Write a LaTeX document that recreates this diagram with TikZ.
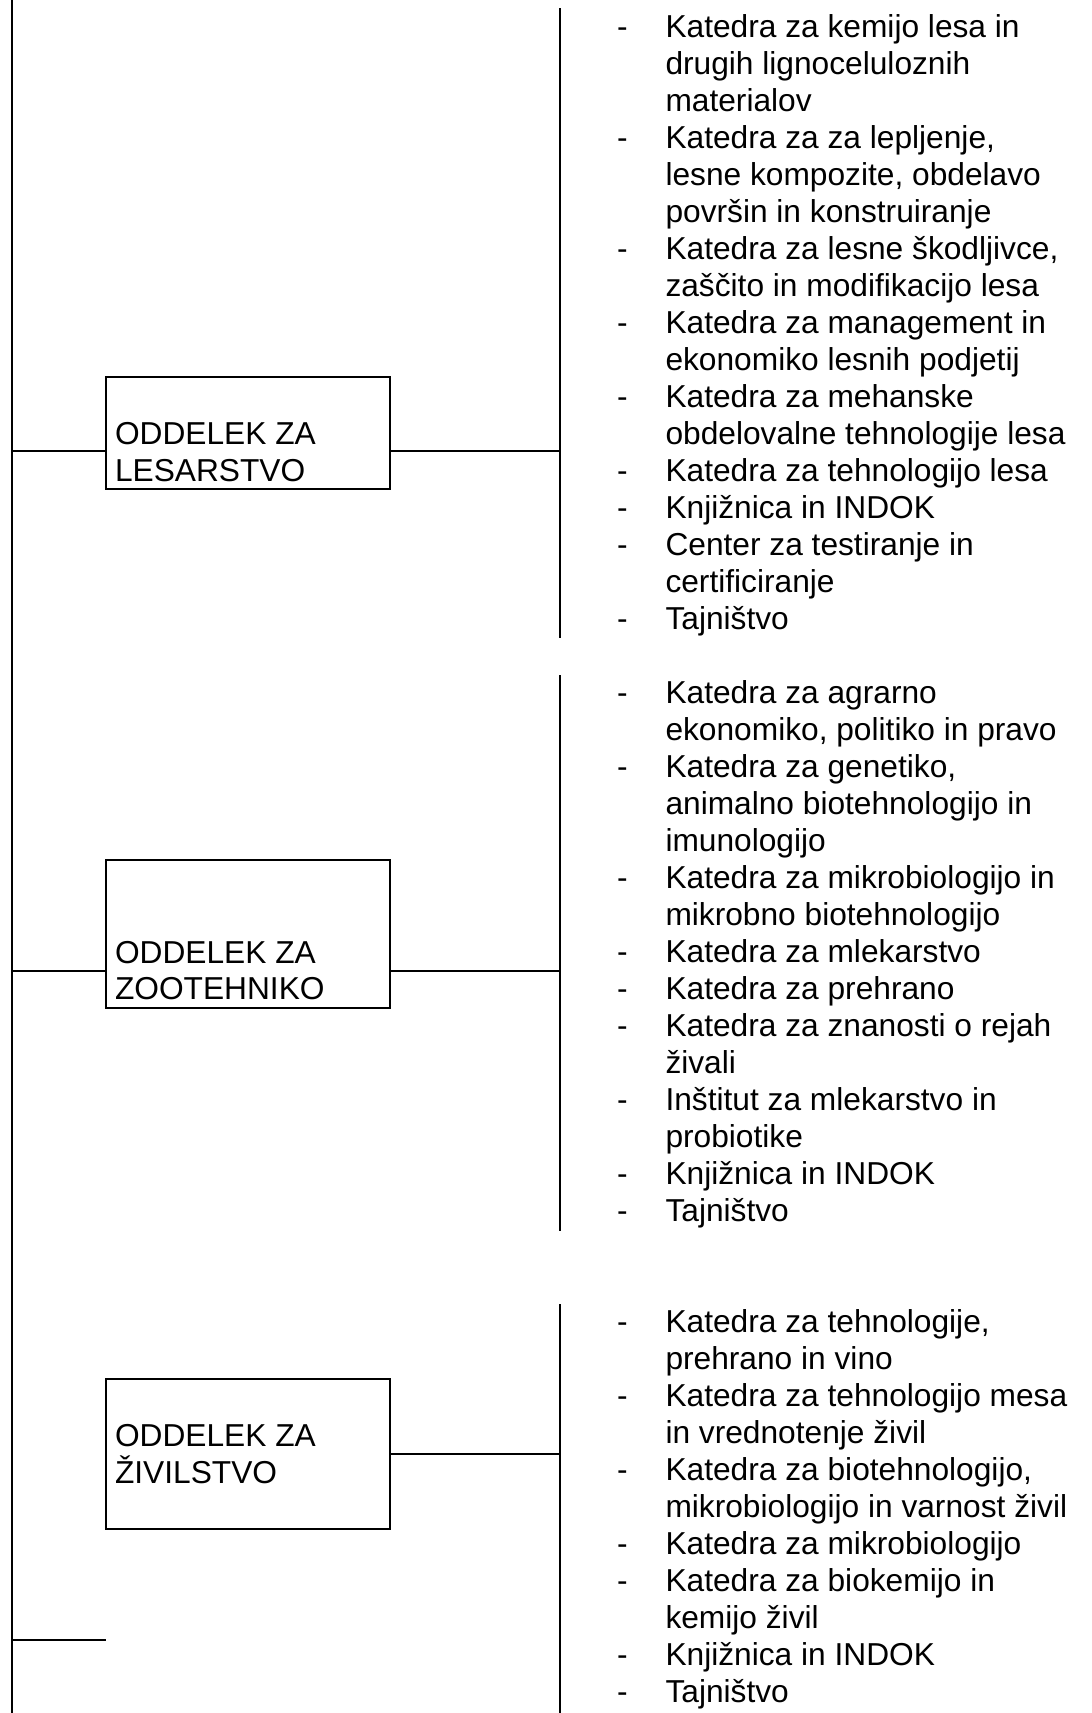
\documentclass[tikz,border=0pt]{standalone}
\usepackage{fontspec}
\setmainfont{Liberation Sans}
\begin{document}
\begin{tikzpicture}[x=1pt,y=-1pt,
  lt/.style={anchor=base west,inner sep=0pt,outer sep=0pt,font=\fontsize{31.7}{37}\selectfont},
  dept/.style={draw,line width=2pt,inner sep=0pt,outer sep=0pt,minimum width=284pt},
  conn/.style={line width=2pt}]
\useasboundingbox (0,0) rectangle (1092,1713);
\newcommand\dl[4]{\node[lt] (#1) at (665.5,{#2+37*#3}) {#4};\node[lt] (#1d) at (617,{#2+37*#3}) {-};}
\newcommand\cl[4]{\node[lt] (#1) at (665.5,{#2+37*#3}) {#4};}
% department boxes
\node[dept,minimum height=112pt] (b1) at (248,433.3) {};
\node[dept,minimum height=148.3pt] (b2) at (248,934.2) {};
\node[dept,minimum height=149.7pt] (b3) at (248,1454.2) {};
\node[lt] (t1a) at (115,444) {ODDELEK ZA};
\node[lt] (t1b) at (115,481.7) {LESARSTVO};
\node[lt] (t2a) at (115,963.3) {ODDELEK ZA};
\node[lt] (t2b) at (115,999.3) {ZOOTEHNIKO};
\node[lt] (t3a) at (115,1446) {ODDELEK ZA};
\node[lt] (t3b) at (115,1483.3) {ŽIVILSTVO};
% trunk and brackets
\coordinate (trtop) at (12,0);
\coordinate (trbot) at (12,1713);
\coordinate (v1t) at (560,8.3);
\coordinate (v1b) at (560,637.7);
\coordinate (v2t) at (560,675);
\coordinate (v2b) at (560,1230.7);
\coordinate (v3t) at (560,1304);
\coordinate (v3b) at (560,1713);
\coordinate (j1) at (12,451);
\coordinate (j2) at (12,970.7);
\coordinate (j3) at (560,1454);
\coordinate (j4) at (12,1640);
\draw[conn] (trtop) -- (trbot);
\draw[conn] (v1t) -- (v1b);
\draw[conn] (v2t) -- (v2b);
\draw[conn] (v3t) -- (v3b);
\draw[conn] (j1) -- (j1 -| b1.west);
\draw[conn] (j1 -| b1.east) -- (j1 -| v1t);
\draw[conn] (j2) -- (j2 -| b2.west);
\draw[conn] (j2 -| b2.east) -- (j2 -| v2t);
\draw[conn] (b3.east |- j3) -- (j3);
\draw[conn] (j4) -- (j4 -| b3.west);
% group 1
\dl{a1}{37.7}{0}{Katedra za kemijo lesa in}
\cl{a2}{37.7}{1}{drugih lignoceluloznih}
\cl{a3}{37.7}{2}{materialov}
\dl{a4}{37.7}{3}{Katedra za za lepljenje,}
\cl{a5}{37.7}{4}{lesne kompozite, obdelavo}
\cl{a6}{37.7}{5}{površin in konstruiranje}
\dl{a7}{37.7}{6}{Katedra za lesne škodljivce,}
\cl{a8}{37.7}{7}{zaščito in modifikacijo lesa}
\dl{a9}{37.7}{8}{Katedra za management in}
\cl{a10}{37.7}{9}{ekonomiko lesnih podjetij}
\dl{a11}{37.7}{10}{Katedra za mehanske}
\cl{a12}{37.7}{11}{obdelovalne tehnologije lesa}
\dl{a13}{37.7}{12}{Katedra za tehnologijo lesa}
\dl{a14}{37.7}{13}{Knjižnica in INDOK}
\dl{a15}{37.7}{14}{Center za testiranje in}
\cl{a16}{37.7}{15}{certificiranje}
\dl{a17}{37.7}{16}{Tajništvo}
% group 2
\dl{b1l}{703.3}{0}{Katedra za agrarno}
\cl{b2l}{703.3}{1}{ekonomiko, politiko in pravo}
\dl{b3l}{703.3}{2}{Katedra za genetiko,}
\cl{b4l}{703.3}{3}{animalno biotehnologijo in}
\cl{b5l}{703.3}{4}{imunologijo}
\dl{b6l}{703.3}{5}{Katedra za mikrobiologijo in}
\cl{b7l}{703.3}{6}{mikrobno biotehnologijo}
\dl{b8l}{703.3}{7}{Katedra za mlekarstvo}
\dl{b9l}{703.3}{8}{Katedra za prehrano}
\dl{b10l}{703.3}{9}{Katedra za znanosti o rejah}
\cl{b11l}{703.3}{10}{živali}
\dl{b12l}{703.3}{11}{Inštitut za mlekarstvo in}
\cl{b13l}{703.3}{12}{probiotike}
\dl{b14l}{703.3}{13}{Knjižnica in INDOK}
\dl{b15l}{703.3}{14}{Tajništvo}
% group 3
\dl{c1}{1332.7}{0}{Katedra za tehnologije,}
\cl{c2}{1332.7}{1}{prehrano in vino}
\dl{c3}{1332.7}{2}{Katedra za tehnologijo mesa}
\cl{c4}{1332.7}{3}{in vrednotenje živil}
\dl{c5}{1332.7}{4}{Katedra za biotehnologijo,}
\cl{c6}{1332.7}{5}{mikrobiologijo in varnost živil}
\dl{c7}{1332.7}{6}{Katedra za mikrobiologijo}
\dl{c8}{1332.7}{7}{Katedra za biokemijo in}
\cl{c9}{1332.7}{8}{kemijo živil}
\dl{c10}{1332.7}{9}{Knjižnica in INDOK}
\dl{c11}{1332.7}{10}{Tajništvo}
\end{tikzpicture}
\end{document}
